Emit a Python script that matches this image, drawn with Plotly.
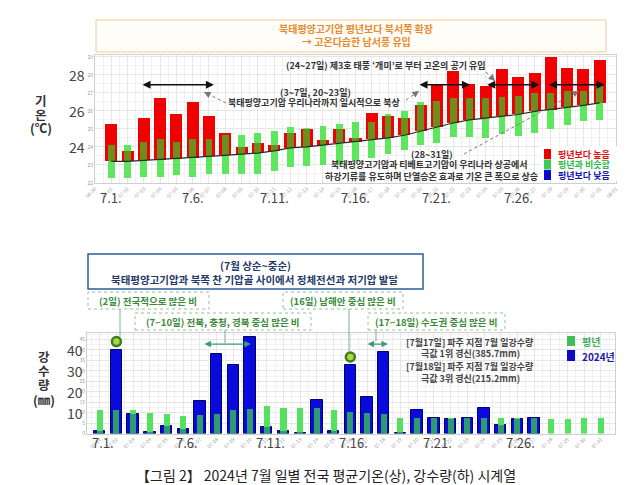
import plotly.graph_objects as go

W, H = 640, 485


def px(x):
    return x / W


def py(y):
    return 1 - y / H


FONT = "Noto Sans CJK KR"

# ---------------- data ----------------
days = list(range(1, 32))
tick_days = list(range(0, 33))
tick_text = ["06-30"] + [f"07-{d:02d}" for d in range(1, 32)] + ["08-01"]
major_days = [1, 6, 11, 16, 21, 26]
major_text = ["7.1.", "7.6.", "7.11.", "7.16.", "7.21.", "7.26."]

# daily mean temperature 2024 (°C)
temp_2024 = [25.3, 23.8, 25.6, 26.7, 25.8, 26.5, 25.7, 24.8, 24.0, 24.2,
             24.1, 24.8, 25.0, 24.4, 25.0, 24.5, 25.9, 25.7, 25.6, 26.3,
             27.5, 28.2, 27.5, 27.4, 28.3, 27.9, 28.1, 29.0, 28.4, 28.3, 28.8]
# climatological mean (line)
temp_normal = [23.2, 23.2, 23.25, 23.3, 23.35, 23.4, 23.48, 23.53, 23.6, 23.66,
               23.78, 23.95, 24.0, 24.1, 24.2, 24.3, 24.42, 24.5, 24.65, 24.87,
               25.1, 25.33, 25.5, 25.6, 25.7, 25.8, 25.97, 26.07, 26.2, 26.31, 26.44]
# normal range (평년 비슷 범위)
temp_low = [22.3, 22.3, 22.32, 22.32, 22.46, 22.32, 22.5, 22.5, 22.5, 22.5,
            22.65, 22.87, 22.93, 23.02, 23.05, 23.2, 23.39, 23.6, 23.85, 24.13,
            24.22, 24.54, 24.54, 24.5, 24.72, 24.63, 24.78, 25.02, 25.2, 25.46, 25.52]
temp_high = [24.1, 24.1, 24.28, 24.46, 24.28, 24.46, 24.46, 24.68, 24.68, 24.78,
             24.9, 25.09, 25.06, 25.18, 25.28, 25.37, 25.39, 25.8, 25.98, 26.5,
             26.57, 26.69, 26.69, 26.69, 26.76, 26.85, 27.0, 27.0, 27.09, 27.13, 27.37]
temp_yticks = [22, 23, 24, 25, 26, 27, 28, 29]
temp_big_ticks = [24, 26, 28]

# daily precipitation (mm)
rain_2024 = [1.2, 40.2, 9.5, 0.6, 3.5, 2.1, 15.6, 38.2, 32.9, 46.4,
             3.2, 1.1, 0.3, 16.2, 1.1, 32.9, 17.5, 39.0, 0.3, 11.1,
             7.2, 6.8, 7.2, 12.2, 4.3, 6.8, 7.6, 0.0, 0.0, 0.0, 0.0]
rain_normal = [11.1, 11.1, 11.4, 10.0, 9.2, 8.4, 8.7, 9.5, 11.1, 11.9,
               13.0, 12.2, 12.2, 12.2, 11.4, 10.3, 9.9, 9.1, 7.5, 7.2,
               7.2, 7.2, 7.5, 7.5, 7.5, 7.2, 7.2, 6.8, 6.8, 7.5, 7.6]
rain_yticks = [0, 5, 10, 15, 20, 25, 30, 35, 40, 45]
rain_big_ticks = [10, 20, 30, 40]
rain_marked_days = [2, 16]
rain_marked_vals = [44.0, 36.6]

# ---------------- derived ----------------
red_h = [t - m for t, m in zip(temp_2024, temp_normal)]
grn_h = [h - l for h, l in zip(temp_high, temp_low)]
ov_base = [max(m, l) for m, l in zip(temp_normal, temp_low)]
ov_h = [max(0.0, min(t, h) - b) for t, h, b in zip(temp_2024, temp_high, ov_base)]

blue_y = [v if v > 0 else None for v in rain_2024]
rain_ov = [min(a, b) if a > 0 else None for a, b in zip(rain_2024, rain_normal)]

fig = go.Figure()

# --- temperature panel ---
fig.add_trace(go.Bar(x=days, y=red_h, base=temp_normal, width=0.74,
                     marker=dict(color="#F00000", line=dict(width=0)),
                     xaxis="x", yaxis="y"))
fig.add_trace(go.Bar(x=days, y=grn_h, base=temp_low, width=0.42,
                     marker=dict(color="#5EE65E", line=dict(width=0)),
                     xaxis="x", yaxis="y"))
fig.add_trace(go.Bar(x=days, y=ov_h, base=ov_base, width=0.42,
                     marker=dict(color="#6B8E1E", line=dict(width=0)),
                     xaxis="x", yaxis="y"))
fig.add_trace(go.Scatter(x=days, y=temp_normal, mode="lines",
                         line=dict(color="#2a2a2a", width=1.2),
                         xaxis="x", yaxis="y"))

# --- precipitation panel ---
fig.add_trace(go.Bar(x=days, y=blue_y, width=0.68,
                     marker=dict(color="#0A0ADC", line=dict(color="#00006E", width=1)),
                     xaxis="x2", yaxis="y2"))
fig.add_trace(go.Bar(x=days, y=rain_normal, width=0.36,
                     marker=dict(color="#55E060", line=dict(width=0)),
                     xaxis="x2", yaxis="y2"))
fig.add_trace(go.Bar(x=days, y=rain_ov, width=0.36,
                     marker=dict(color="#2E9A6E", line=dict(width=0)),
                     xaxis="x2", yaxis="y2"))
fig.add_trace(go.Scatter(x=rain_marked_days, y=rain_marked_vals, mode="markers",
                         marker=dict(size=9, color="#A6D84A",
                                     line=dict(color="#3E7D1E", width=2.5)),
                         xaxis="x2", yaxis="y2"))

axis_common = dict(showline=True, linecolor="#cfcfcf", linewidth=1, mirror=True,
                   zeroline=False, ticks="", showgrid=True, gridcolor="#e6e6e6",
                   gridwidth=1, automargin=False,
                   tickfont=dict(size=5, color="#9a9a9a", family=FONT))

fig.update_layout(
    template="none",
    width=W, height=H,
    margin=dict(l=0, r=0, t=0, b=0),
    paper_bgcolor="white", plot_bgcolor="white",
    barmode="overlay", bargap=0, showlegend=False, hovermode=False,
    font=dict(family=FONT, color="#333"),
    xaxis=dict(axis_common, domain=[px(87), px(608)], range=[0, 32], anchor="y",
               tickmode="array", tickvals=tick_days, ticktext=tick_text, tickangle=-45,
               minor=dict(tickmode="linear", tick0=0.5, dtick=1, showgrid=True,
                          gridcolor="#f0f0f0")),
    yaxis=dict(axis_common, domain=[py(175), py(47)], range=[22, 29.1], anchor="x",
               tickmode="array", tickvals=temp_yticks,
               minor=dict(tickmode="linear", tick0=22.5, dtick=1, showgrid=True,
                          gridcolor="#f2f2f2")),
    xaxis2=dict(axis_common, domain=[px(79), px(607)], range=[0.24, 31.84], anchor="y2",
                tickmode="array", tickvals=tick_days, ticktext=tick_text, tickangle=-45,
                minor=dict(tickmode="linear", tick0=0.5, dtick=1, showgrid=True,
                           gridcolor="#f0f0f0")),
    yaxis2=dict(axis_common, domain=[py(425.5), py(325)], range=[0, 48.1], anchor="x2",
                tickmode="array", tickvals=rain_yticks,
                minor=dict(tickmode="linear", tick0=2.5, dtick=5, showgrid=True,
                           gridcolor="#f2f2f2")),
)

shapes = []
ann = []


def text(x, y, s, size=9, color="#333", bold=False, xanchor="center", **kw):
    ann.append(dict(x=px(x), y=py(y), xref="paper", yref="paper", text=(f"<b>{s}</b>" if bold else s),
                    showarrow=False, xanchor=xanchor, yanchor="middle",
                    font=dict(size=size, color=color, family=FONT), **kw))


def rect(x0, y0, x1, y1, line, fill="white", width=1, dash="solid"):
    shapes.append(dict(type="rect", xref="paper", yref="paper", x0=px(x0), x1=px(x1),
                       y0=py(y1), y1=py(y0), line=dict(color=line, width=width, dash=dash),
                       fillcolor=fill, layer="above"))


def line(x0, y0, x1, y1, color, width=1, dash="solid"):
    shapes.append(dict(type="line", xref="paper", yref="paper", x0=px(x0), x1=px(x1),
                       y0=py(y0), y1=py(y1), line=dict(color=color, width=width, dash=dash),
                       layer="above"))


def dotted_arrow(x0, y0, x1, y1, color="#777"):
    line(x0, y0, x1, y1, color, 1, "dot")
    dx, dy = x0 - x1, y0 - y1
    n = (dx * dx + dy * dy) ** 0.5
    ann.append(dict(x=px(x1), y=py(y1), xref="paper", yref="paper", text="", showarrow=True,
                    ax=dx / n * 5, ay=dy / n * 5, arrowhead=2, arrowsize=1.1, arrowwidth=1.2,
                    arrowcolor=color))


# ---------- top panel decorations ----------
rect(88, 12, 598, 44, "#F3C896", fill="#FFFDF8")
text(348, 21, "북태평양고기압 평년보다 북서쪽 확장", 10, "#E8892B", True)
text(348, 34, "→ 고온다습한 남서풍 유입", 10, "#E8892B", True)

for ch, yy in [("기", 93), ("온", 106), ("(℃)", 119)]:
    text(33, yy, ch, 12.5, "#333", True)
for v in temp_big_ticks:
    ann.append(dict(x=px(59), y=v, xref="paper", yref="y", text=str(v), showarrow=False,
                    font=dict(size=14, color="#444", family=FONT)))
for d, t in zip(major_days, major_text):
    ann.append(dict(x=d, y=py(190), xref="x", yref="paper", text=t, showarrow=False,
                    font=dict(size=13, color="#444", family=FONT)))

# black double arrows (periods)
for a, b in [(2.83, 7.3), (19.84, 23.03), (24.0, 27.3), (27.8, 31.3)]:
    ann.append(dict(x=b, y=27.45, ax=a, ay=27.45, xref="x", yref="y", axref="x", ayref="y",
                    text="", showarrow=True, arrowside="end+start", arrowhead=2,
                    arrowsize=1, arrowwidth=1.6, arrowcolor="#111"))

text(378, 57, "(24~27일) 제3호 태풍 ‘개미’로 부터 고온의 공기 유입", 9, "#333", True)
text(307, 84, "(3~7일, 20~23일)", 9, "#333", True)
text(306, 95, "북태평양고기압 우리나라까지 일시적으로 북상", 9, "#333", True)
text(424, 146, "(28~31일)", 9, "#333", True)
text(421, 157, "북태평양고기압과 티베트고기압이 우리나라 상공에서", 9, "#333", True)
text(423, 168, "하강기류를 유도하며 단열승온 효과로 기온 큰 폭으로 상승", 9, "#333", True)

dotted_arrow(218, 95, 196, 84)
dotted_arrow(398, 92, 411, 83)
dotted_arrow(478, 64, 487, 73)
dotted_arrow(456, 146, 571, 83)

# top legend
rect(532, 138, 609, 173, "white", fill="white", width=0)
for (c, tc, s, yy) in [("#F00000", "#E01010", "평년보다 높음", 146),
                       ("#3CCB5A", "#2DB84B", "평년과 비슷함", 156.5),
                       ("#0A0ACF", "#1515B0", "평년보다 낮음", 167)]:
    rect(536, yy - 5, 543, yy + 5, c, fill=c, width=0)
    text(548, yy, s, 9, tc, True, xanchor="left")

# ---------- bottom panel decorations ----------
rect(80, 246, 415, 281, "#2E5C9A", fill="white", width=1.5)
text(247, 257, "(7월 상순~중순)", 10.5, "#1F3A68", True)
text(247, 271, "북태평양고기압과 북쪽 찬 기압골 사이에서 정체전선과 저기압 발달", 10.5, "#1F3A68", True)

GBOX = "#92C392"
GTXT = "#3A8A3A"
rect(80, 284, 201, 301, GBOX, dash="dot")
text(140, 292.5, "(2일) 전국적으로 많은 비", 9.5, GTXT, True)
rect(275, 284, 395, 301, GBOX, dash="dot")
text(335, 292.5, "(16일) 남해안 중심 많은 비", 9.5, GTXT, True)
rect(127, 305, 303, 322, GBOX, dash="dot")
text(215, 313.5, "(7~10일) 전북, 충청, 경북 중심 많은 비", 9.5, GTXT, True)
rect(360, 305, 497, 322, GBOX, dash="dot")
text(428, 313.5, "(17~18일) 수도권 중심 많은 비", 9.5, GTXT, True)

LC = "#7FAF8F"
line(112, 301, 112, 329, LC)
line(217, 322, 217, 335, LC)
line(341, 301, 341, 344, LC)
line(368, 322, 368, 333, LC)

for a, b in [(7.18, 10.05), (16.94, 18.25)]:
    ann.append(dict(x=b, y=42.8, ax=a, ay=42.8, xref="x2", yref="y2", axref="x2", ayref="y2",
                    text="", showarrow=True, arrowside="end+start", arrowhead=2,
                    arrowsize=1, arrowwidth=1.3, arrowcolor="#3C9C7C"))

text(462, 334, "[7월17일] 파주 지점 7월 일강수량", 9, "#444", True)
text(462, 345, "극값 1위 경신(385.7mm)", 9, "#444", True)
text(462, 358, "[7월18일] 파주 지점 7월 일강수량", 9, "#444", True)
text(462, 370, "극값 3위 경신(215.2mm)", 9, "#444", True)

rect(559, 328, 567, 338, "#3DBE5A", fill="#3DBE5A", width=0)
text(572, 333, "평년", 10, "#3DAE55", True, xanchor="left")
rect(559, 342, 567, 353, "#0A0ACF", fill="#0A0ACF", width=0)
text(572, 348, "2024년", 10, "#1A1AA8", True, xanchor="left")

for ch, yy in [("강", 348), ("수", 362), ("량", 376), ("(㎜)", 391)]:
    text(36, yy, ch, 12.5, "#333", True)
for v in rain_big_ticks:
    ann.append(dict(x=px(57), y=v, xref="paper", yref="y2", text=str(v), showarrow=False,
                    font=dict(size=14, color="#444", family=FONT)))
for d, t in zip(major_days, major_text):
    ann.append(dict(x=d + 0.2, y=py(446), xref="x2", yref="paper", text=t, showarrow=False,
                    font=dict(size=13, color="#444", family=FONT)))

text(318, 467, "【그림 2】 2024년 7월 일별 전국 평균기온(상), 강수량(하) 시계열", 14, "#222")

fig.update_layout(shapes=shapes, annotations=ann)
fig.write_html("out.html")
